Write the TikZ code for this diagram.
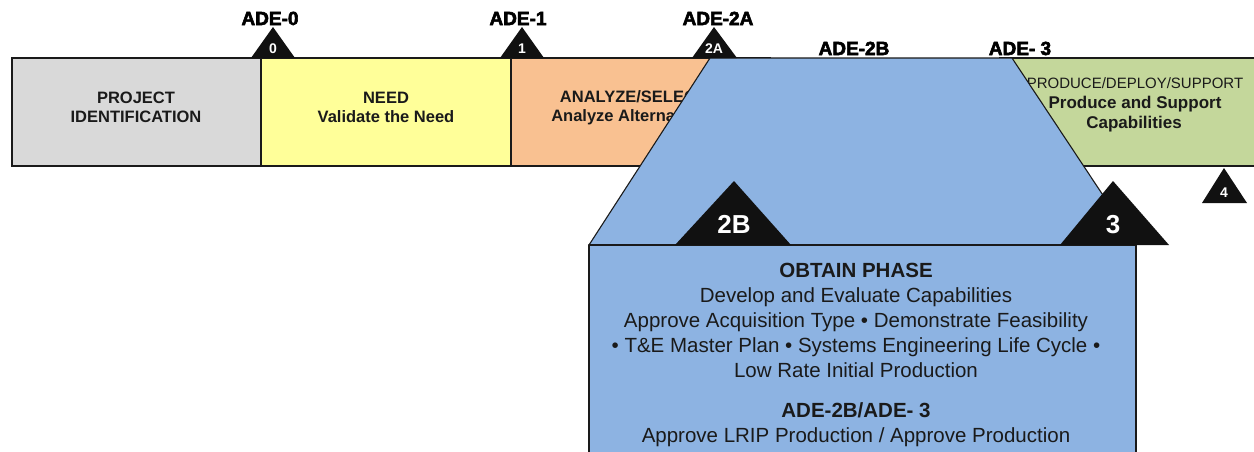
\documentclass[tikz,border=0pt]{standalone}
\usepackage{fontspec}
\setmainfont{Liberation Sans}
\newfontfamily\adefont{Liberation Sans}[BoldFeatures={FakeBold=3}]
\newcommand\setfs[2]{\fontsize{#1}{#2}\selectfont}
\definecolor{edge}{HTML}{1A1A1A}
\definecolor{idgray}{HTML}{D9D9D9}
\definecolor{needyellow}{HTML}{FFFF99}
\definecolor{anaorange}{HTML}{F9C191}
\definecolor{prodgreen}{HTML}{C4D79B}
\definecolor{obtainblue}{HTML}{8DB3E2}
\definecolor{trifill}{HTML}{111111}
\begin{document}
\begin{tikzpicture}[x=1pt,y=-1pt,
  phase/.style={draw=edge,line width=1.1pt},
  obtain/.style={fill=obtainblue,draw=edge,line width=1.1pt,line join=round},
  tri/.style={fill=trifill},
  bandtxt/.style={anchor=base,inner sep=0pt,text=edge,font=\bfseries\setfs{16.5}{18}},
  prodtxt/.style={anchor=base,inner sep=0pt,text=edge,font=\bfseries\setfs{17}{19}},
  boxtxt/.style={anchor=base,inner sep=0pt,text=edge,font=\setfs{20.5}{22}},
  boxhead/.style={boxtxt,font=\bfseries\setfs{20.5}{22}},
  adelabel/.style={anchor=base,inner sep=0pt,text=black,font=\adefont\bfseries\setfs{19}{20}},
  smallnum/.style={anchor=base,inner sep=0pt,text=white,font=\bfseries\setfs{14}{15}},
  bignum/.style={anchor=base,inner sep=0pt,text=white,font=\bfseries\setfs{26}{27}}]
\useasboundingbox (0,0) rectangle (1254,451);

% phase band
\filldraw[phase,fill=idgray] (12,58) rectangle (261,166);
\filldraw[phase,fill=needyellow] (261,58) rectangle (511,166);
\filldraw[phase,fill=anaorange] (511,58) rectangle (770,166);
\filldraw[phase,fill=prodgreen] (1000,58) rectangle (1264,166);

\node[bandtxt] (pid1) at (136,103) {PROJECT};
\node[bandtxt] (pid2) at (136,122) {IDENTIFICATION};
\node[bandtxt] (need1) at (386,103) {NEED};
\node[bandtxt] (need2) at (386,122) {Validate the Need};
\node[bandtxt] (ana1) at (633,102) {ANALYZE/SELECT};
\node[bandtxt] (ana2) at (632,121) {Analyze Alternatives};
\node[anchor=base,inner sep=0pt,text=edge,font=\setfs{15}{16}] (prod1) at (1135,88) {PRODUCE/DEPLOY/SUPPORT};
\node[prodtxt] (prod2) at (1135,108.5) {Produce and Support};
\node[prodtxt] (prod3) at (1134,128) {Capabilities};

% obtain phase
\filldraw[obtain] (710,58) -- (1012,58) -- (1136,245) -- (589,245) -- cycle;
\filldraw[obtain] (589,245) rectangle (1136,470);

\node[boxhead] (ob1) at (856,277.5) {OBTAIN PHASE};
\node[boxtxt] (ob2) at (856,302.5) {Develop and Evaluate Capabilities};
\node[boxtxt] (ob3) at (856,327.5) {Approve Acquisition Type • Demonstrate Feasibility};
\node[boxtxt] (ob4) at (856,352.5) {• T\&E Master Plan • Systems Engineering Life Cycle •};
\node[boxtxt] (ob5) at (856,377.5) {Low Rate Initial Production};
\node[boxhead] (ob6) at (856,417.5) {ADE-2B/ADE- 3};
\node[boxtxt] (ob7) at (856,442.5) {Approve LRIP Production / Approve Production};

% decision triangles
\fill[tri] (251,58) -- (273,27) -- (295,58) -- cycle;
\fill[tri] (500,58) -- (522,27) -- (544,58) -- cycle;
\fill[tri] (692,58) -- (714,27) -- (737,58) -- cycle;
\fill[tri] (675,245) -- (734,181) -- (791,245) -- cycle;
\fill[tri] (1060,245) -- (1113,181) -- (1169,245) -- cycle;
\fill[tri] (1202,203) -- (1224,168) -- (1247,203) -- cycle;

\node[smallnum] (t0) at (273,53) {0};
\node[smallnum] (t1) at (522,53) {1};
\node[smallnum] (t2a) at (714,53) {2A};
\node[smallnum] (t4) at (1224,197) {4};
\node[bignum] (t2b) at (734,233) {2B};
\node[bignum] (t3) at (1113,233) {3};

% decision labels
\node[adelabel] (ade0) at (270,25) {ADE-0};
\node[adelabel] (ade1) at (518,25) {ADE-1};
\node[adelabel] (ade2a) at (718,25) {ADE-2A};
\node[adelabel] (ade2b) at (854,55) {ADE-2B};
\node[adelabel] (ade3) at (1020,55) {ADE- 3};
\end{tikzpicture}
\end{document}
